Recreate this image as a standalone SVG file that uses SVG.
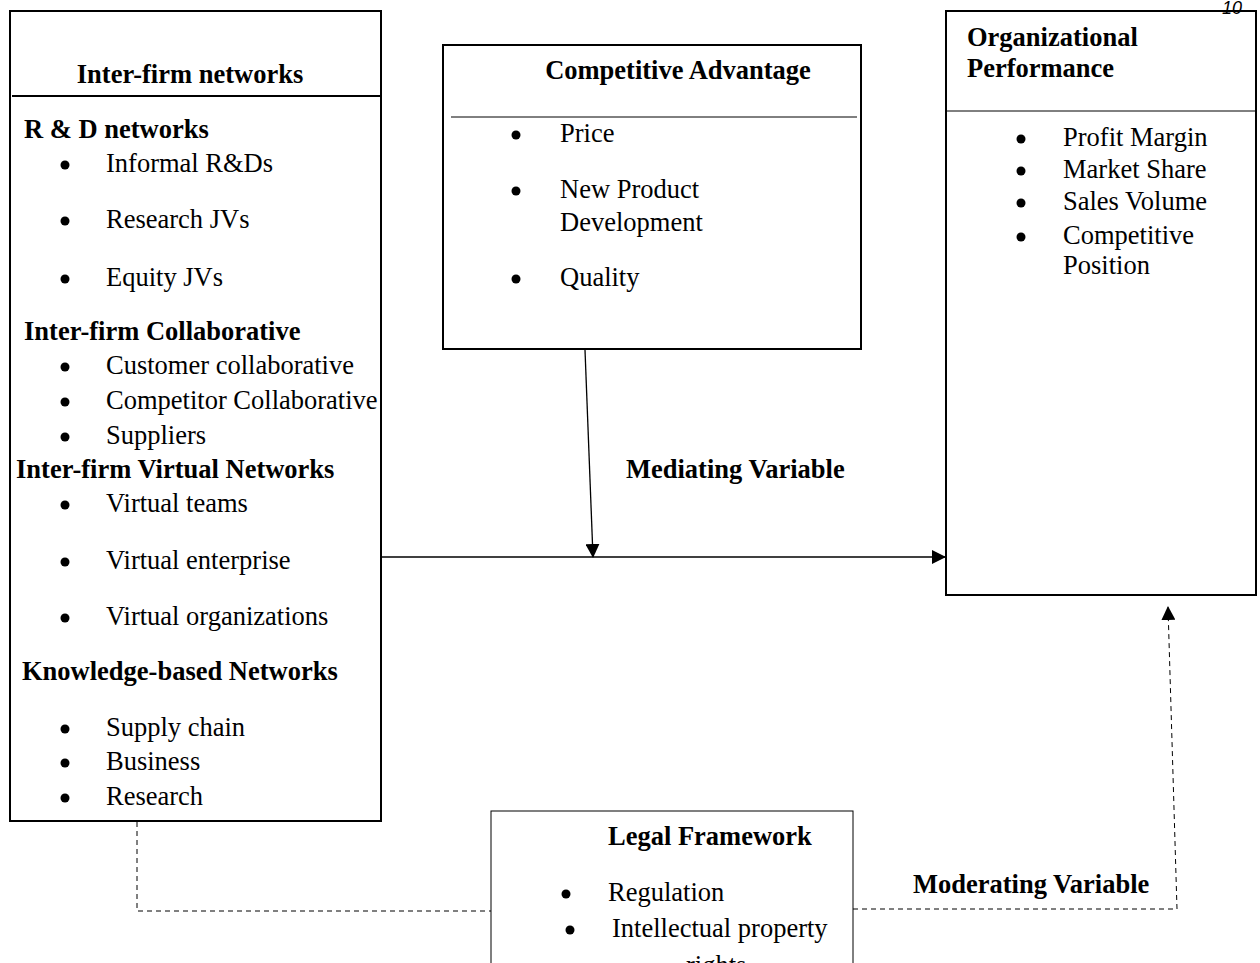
<svg xmlns="http://www.w3.org/2000/svg" width="1260" height="963" viewBox="0 0 1260 963">
<style>
text{font-family:"Liberation Serif","Times New Roman",serif;font-size:26.5px;fill:#000}
.b{font-weight:bold}
.box{fill:#fff;stroke:#000;stroke-width:2}
.thin{fill:#fff;stroke:#000;stroke-width:1}
.ln{stroke:#000;stroke-width:1.3;fill:none}
.dash{stroke:#000;stroke-width:1;fill:none;stroke-dasharray:5,4}
circle{fill:#000}
</style>
<defs>
<marker id="ah2" markerWidth="14" markerHeight="14" refX="13" refY="7" orient="auto" markerUnits="userSpaceOnUse" viewBox="0 0 14 14">
<path d="M0,0 L14,7 L0,14 Z" fill="#000"/>
</marker>
</defs>
<g id="connectors">
<line class="ln" x1="381" y1="557" x2="945" y2="557" marker-end="url(#ah2)"/>
<line class="ln" x1="585" y1="350" x2="593" y2="557" marker-end="url(#ah2)"/>
<polyline class="dash" points="137,822 137,911 491,911"/>
<polyline class="dash" points="853,909 1177,909 1168,607" marker-end="url(#ah2)"/>
<text class="b" x="626" y="478">Mediating Variable</text>
<text class="b" x="913" y="893">Moderating Variable</text>
</g>
<g id="inter-firm">
<rect class="box" x="10" y="11" width="371" height="810"/>
<line x1="12" y1="96" x2="381" y2="96" stroke="#000" stroke-width="2"/>
<text class="b" x="190" y="83" text-anchor="middle">Inter-firm networks</text>
<text class="b" x="24" y="138">R &amp; D networks</text>
<circle cx="65" cy="165" r="4.5"/><text x="106" y="172">Informal R&amp;Ds</text>
<circle cx="65" cy="221" r="4.5"/><text x="106" y="228">Research JVs</text>
<circle cx="65" cy="279" r="4.5"/><text x="106" y="286">Equity JVs</text>
<text class="b" x="24" y="340">Inter-firm Collaborative</text>
<circle cx="65" cy="367" r="4.5"/><text x="106" y="374">Customer collaborative</text>
<circle cx="65" cy="402" r="4.5"/><text x="106" y="409">Competitor Collaborative</text>
<circle cx="65" cy="437" r="4.5"/><text x="106" y="444">Suppliers</text>
<text class="b" x="16" y="478">Inter-firm Virtual Networks</text>
<circle cx="65" cy="505" r="4.5"/><text x="106" y="512">Virtual teams</text>
<circle cx="65" cy="562" r="4.5"/><text x="106" y="569">Virtual enterprise</text>
<circle cx="65" cy="618" r="4.5"/><text x="106" y="625">Virtual organizations</text>
<text class="b" x="22" y="680">Knowledge-based Networks</text>
<circle cx="65" cy="729" r="4.5"/><text x="106" y="736">Supply chain</text>
<circle cx="65" cy="763" r="4.5"/><text x="106" y="770">Business</text>
<circle cx="65" cy="798" r="4.5"/><text x="106" y="805">Research</text>
</g>
<g id="competitive">
<rect class="box" x="443" y="45" width="418" height="304"/>
<line x1="451" y1="117" x2="857" y2="117" stroke="#000" stroke-width="1"/>
<text class="b" x="678" y="79" text-anchor="middle">Competitive Advantage</text>
<circle cx="516" cy="135" r="4.5"/><text x="560" y="142">Price</text>
<circle cx="516" cy="191" r="4.5"/><text x="560" y="198">New Product</text>
<text x="560" y="231">Development</text>
<circle cx="516" cy="279" r="4.5"/><text x="560" y="286">Quality</text>
</g>
<g id="performance">
<rect class="box" x="946" y="11" width="310" height="584"/>
<line x1="946" y1="111" x2="1256" y2="111" stroke="#000" stroke-width="1"/>
<text class="b" x="967" y="46">Organizational</text>
<text class="b" x="967" y="77">Performance</text>
<circle cx="1021" cy="139" r="4.5"/><text x="1063" y="146">Profit Margin</text>
<circle cx="1021" cy="171" r="4.5"/><text x="1063" y="178">Market Share</text>
<circle cx="1021" cy="203" r="4.5"/><text x="1063" y="210">Sales Volume</text>
<circle cx="1021" cy="237" r="4.5"/><text x="1063" y="244">Competitive</text>
<text x="1063" y="274">Position</text>
</g>
<g id="legal">
<rect class="thin" x="491" y="811" width="362" height="170"/>
<text class="b" x="608" y="845">Legal Framework</text>
<circle cx="566" cy="894" r="4.5"/><text x="608" y="901">Regulation</text>
<circle cx="570" cy="930" r="4.5"/><text x="612" y="937">Intellectual property</text>
<text x="686" y="974">rights</text>
</g>
<text x="1222" y="14" style="font-family:'Liberation Sans',Arial,sans-serif;font-style:italic;font-size:18px">10</text>
</svg>
